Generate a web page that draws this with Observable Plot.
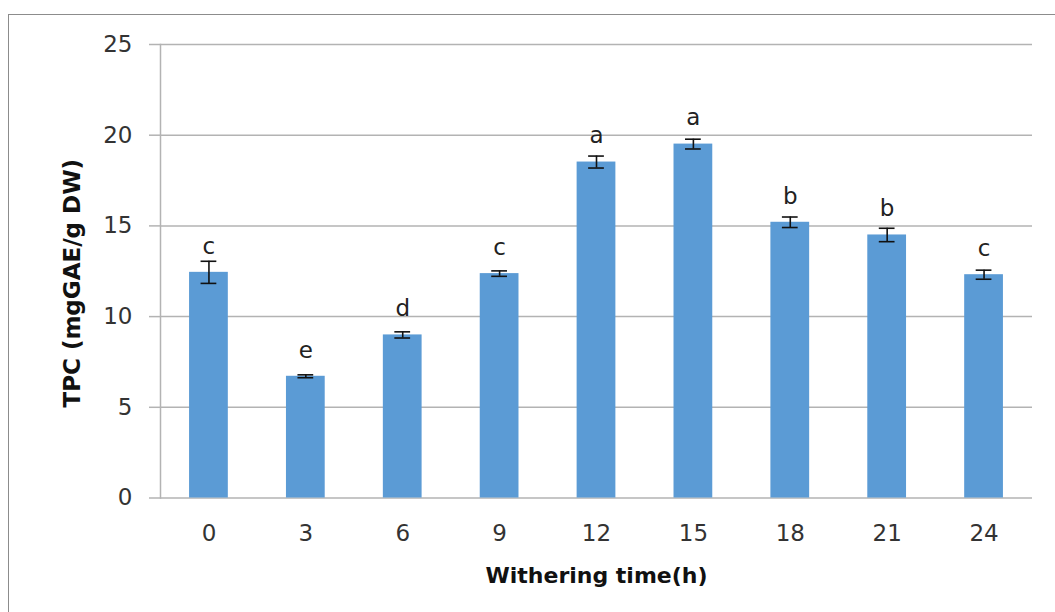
<!DOCTYPE html>
<html>
<head>
<meta charset="utf-8">
<script src="https://cdn.jsdelivr.net/npm/d3@7"></script>
<script src="https://cdn.jsdelivr.net/npm/@observablehq/plot@0.6"></script>
<style>
  html, body { margin: 0; padding: 0; background: #fff; overflow: hidden; }
  #wrap { position: relative; width: 1055px; height: 612px; }
  #border { position: absolute; left: 8px; top: 14px; width: 1200px; height: 800px;
            border: 1.5px solid #8c8c8c; box-sizing: border-box; }
  #chart { position: absolute; left: 0; top: 0; }
</style>
</head>
<body>
<div id="wrap">
  <div id="border"></div>
  <div id="chart"></div>
</div>
<script>
// Withering time (h)
const hours = ["0", "3", "6", "9", "12", "15", "18", "21", "24"];
// Total phenolic content, mg GAE / g DW
const tpc = [12.44, 6.71, 8.99, 12.37, 18.52, 19.51, 15.2, 14.5, 12.31];
// Standard deviation
const sd = [0.61, 0.08, 0.17, 0.15, 0.33, 0.27, 0.29, 0.37, 0.25];
// Significance groups
const groups = ["c", "e", "d", "c", "a", "a", "b", "b", "c"];
const yTicks = [0, 5, 10, 15, 20, 25];

const data = hours.map((h, i) => ({h, v: tpc[i], e: sd[i], g: groups[i]}));

const font = "'DejaVu Sans', 'Open Sans', sans-serif";
const gridColor = "#b3b3b3";

const chart = Plot.plot({
  width: 1055,
  height: 612,
  marginLeft: 160,
  marginRight: 23,
  marginTop: 44,
  marginBottom: 114.5,
  style: {fontFamily: font, background: "transparent"},
  x: {domain: hours, paddingInner: 0.6, paddingOuter: 0.3, round: false},
  y: {domain: [0, 25]},
  marks: [
    Plot.ruleY(yTicks, {stroke: gridColor, strokeWidth: 1.5}),
    Plot.frame({anchor: "left", stroke: gridColor, strokeWidth: 1.5}),
    Plot.axisY({
      ticks: yTicks, tickSize: 11, tickPadding: 17, stroke: gridColor,
      strokeWidth: 1.5, fontSize: 23, fill: "#333", label: null
    }),
    Plot.axisX({tickSize: 0, tickPadding: 27, fontSize: 23, fill: "#333", label: null}),
    Plot.barY(data, {x: "h", y: "v", fill: "#5b9bd5"}),
    Plot.ruleX(data, {x: "h", y1: d => d.v - d.e, y2: d => d.v + d.e, stroke: "#111", strokeWidth: 1.6}),
    Plot.tickY(data, {x: "h", y: d => d.v + d.e, stroke: "#111", strokeWidth: 1.6, insetLeft: 11.5, insetRight: 11.5}),
    Plot.tickY(data, {x: "h", y: d => d.v - d.e, stroke: "#111", strokeWidth: 1.6, insetLeft: 11.5, insetRight: 11.5}),
    Plot.text(data, {x: "h", y: "v", text: "g", dy: -26, fontSize: 23, fill: "#222"}),
    Plot.text(["Withering time(h)"], {
      frameAnchor: "bottom", textAnchor: "middle", lineAnchor: "middle",
      dy: 78, fontSize: 22, fontWeight: "bold", fill: "#111"
    }),
    Plot.text(["TPC (mgGAE/g DW)"], {
      frameAnchor: "left", textAnchor: "middle", lineAnchor: "middle",
      dx: -88, dy: 12, rotate: -90, fontSize: 23, fontWeight: "bold", fill: "#111"
    })
  ]
});
document.getElementById("chart").append(chart);
</script>
</body>
</html>
